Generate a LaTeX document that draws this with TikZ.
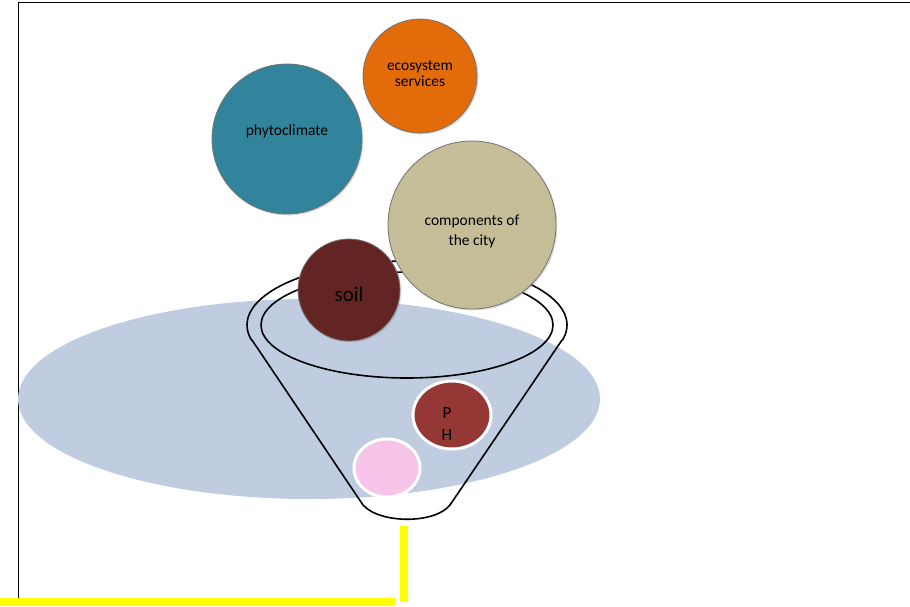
\documentclass[tikz,border=0pt]{standalone}
\usepackage{fontspec}
\setmainfont{Carlito}
\usetikzlibrary{shadows,shapes.geometric}
\definecolor{bgblue}{HTML}{C0CCE0}
\definecolor{ecoorange}{HTML}{E36C0A}
\definecolor{phyteal}{HTML}{31849B}
\definecolor{citytan}{HTML}{C4BD97}
\definecolor{soilbrown}{HTML}{632523}
\definecolor{phred}{HTML}{953735}
\definecolor{pinkish}{HTML}{F5C4E8}
\definecolor{ylw}{HTML}{FFFF00}
\tikzset{
  ball/.style={circle, draw=black!55, line width=0.8pt, inner sep=0pt,
    drop shadow={opacity=0.25, shadow xshift=1.5pt, shadow yshift=-1.5pt}},
  smallball/.style={ellipse, draw=white, line width=3pt, inner sep=0pt},
  balltext/.style={align=center, inner sep=0pt, text=black, font=\fontsize{15.5}{16}\selectfont},
  funnelline/.style={draw=black, line width=1.6pt},
  ybar/.style={fill=ylw, draw=none}
}
\begin{document}
\begin{tikzpicture}[x=1pt,y=-1pt]
\useasboundingbox (0,0) rectangle (910,606);
% frame lines
\draw[line width=0.8pt] (18,606) -- (18,2) -- (910,2);
% background ellipse
\fill[bgblue] (309,399) ellipse [x radius=291pt, y radius=100pt];
% funnel
\draw[funnelline, line join=round]
  (252,340) -- (363,505) .. controls (380,524) and (435,524) .. (450,505) -- (562,340)
  -- plot[domain=-13.6:193.6, samples=90] ({407+160*cos(\x)}, {325-64*sin(\x)}) -- cycle;
\draw[funnelline] (407,325) ellipse [x radius=146pt, y radius=53pt];
% yellow bars
\fill[ybar] (0,598) rectangle (395,606);
\fill[ybar] (400,526) rectangle (408,602);
% balls
\node[ball, fill=ecoorange, minimum size=114pt] (eco) at (420,76) {};
\node[balltext] (ecot) at (420,74) {ecosystem\\[0pt]services};
\node[ball, fill=phyteal, minimum size=150pt] (phy) at (287,139) {};
\node[balltext] (phyt) at (287,131) {phytoclimate};
\node[ball, fill=citytan, minimum size=168pt] (city) at (472,225) {};
\node[balltext] (cityt) at (472,231) {components of\\[4pt]the city};
\node[ball, fill=soilbrown, minimum size=102pt] (soil) at (349,290) {};
\node[balltext, font=\fontsize{21}{24}\selectfont] (soilt) at (349,294) {soil};
\node[smallball, fill=phred, minimum width=78pt, minimum height=68pt] (ph) at (452,415) {};
\node[balltext, font=\fontsize{17}{22}\selectfont] (pht) at (447,424) {P\\H};
\node[smallball, fill=pinkish, minimum width=66pt, minimum height=58pt] (pink) at (387,468) {};
\end{tikzpicture}
\end{document}
